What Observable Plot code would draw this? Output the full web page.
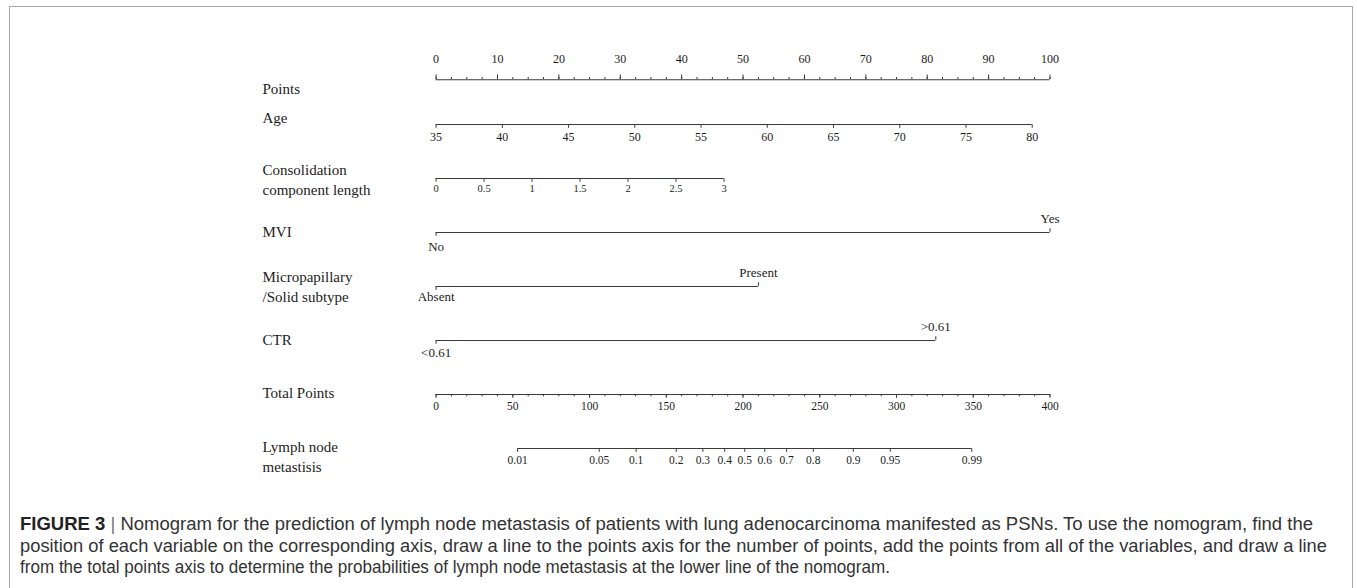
<!DOCTYPE html>
<html><head><meta charset="utf-8">
<script src="https://cdn.jsdelivr.net/npm/d3@7"></script>
<script src="https://cdn.jsdelivr.net/npm/@observablehq/plot@0.6"></script>
<style>
html,body{margin:0;padding:0;background:#fff;}
#frame{position:absolute;left:9px;top:6px;width:1344px;height:700px;border:1.5px solid #a8a8a8;border-bottom:none;box-sizing:border-box;}
#chart{position:absolute;left:0;top:0;}
#caption{position:absolute;left:20px;top:514px;font-family:"Liberation Sans Narrow","Arial Narrow","Liberation Sans",Arial,sans-serif;font-size:17.5px;line-height:21.5px;color:#333;white-space:nowrap;}
#caption span.line{display:inline-block;transform-origin:0 0;}
#caption b{color:#222;}
#caption .bar{color:#777;}
</style></head>
<body>
<div id="frame"></div>
<div id="chart"></div>
<div id="caption"></div>
<script>
// ---------- data ----------
const rows = ["Points", "Age", "Consolidation component length", "MVI",
  "Micropapillary /Solid subtype", "CTR", "Total Points", "Lymph node metastisis"];
const rowLabels = ["Points", "Age", "Consolidation\ncomponent length", "MVI",
  "Micropapillary\n/Solid subtype", "CTR", "Total Points", "Lymph node\nmetastisis"];

const pointsMajor = [0, 10, 20, 30, 40, 50, 60, 70, 80, 90, 100];
const pointsMinorStep = 2.5;

const ageTicks = [35, 40, 45, 50, 55, 60, 65, 70, 75, 80];
const ageRange = [35, 80];
const agePoints = [0, 97.1];

const cclTicks = [0, 0.5, 1, 1.5, 2, 2.5, 3];
const cclTickLabels = ["0", "0.5", "1", "1.5", "2", "2.5", "3"];
const cclRange = [0, 3];
const cclPoints = [0, 46.9];

const mviLevels = ["No", "Yes"];
const mviPoints = [0, 100];

const mpLevels = ["Absent", "Present"];
const mpPoints = [0, 52.5];

const ctrLevels = ["<0.61", ">0.61"];
const ctrPoints = [0, 81.4];

const totalTicks = [0, 50, 100, 150, 200, 250, 300, 350, 400];
const totalMinorStep = 10;
const totalMax = 400;

const lnmTicks = [0.01, 0.05, 0.1, 0.2, 0.3, 0.4, 0.5, 0.6, 0.7, 0.8, 0.9, 0.95, 0.99];
const lnmTotalAtHalf = 201.1;   // total points where probability = 0.5
const lnmTotalPerLogit = 32.2;  // total points per unit of logit

// ---------- value -> points mappings ----------
const agePts = d3.scaleLinear(ageRange, agePoints);
const cclPts = d3.scaleLinear(cclRange, cclPoints);
const totalPts = d3.scaleLinear([0, totalMax], [0, 100]);
const lnmPts = p => totalPts(lnmTotalAtHalf + lnmTotalPerLogit * Math.log(p / (1 - p)));

// axis lines
const axisLines = [
  {row: rows[0], x1: 0, x2: 100},
  {row: rows[1], x1: agePts(ageRange[0]), x2: agePts(ageRange[1])},
  {row: rows[2], x1: cclPts(cclRange[0]), x2: cclPts(cclRange[1])},
  {row: rows[3], x1: mviPoints[0], x2: mviPoints[1]},
  {row: rows[4], x1: mpPoints[0], x2: mpPoints[1]},
  {row: rows[5], x1: ctrPoints[0], x2: ctrPoints[1]},
  {row: rows[6], x1: 0, x2: totalPts(totalMax)},
  {row: rows[7], x1: lnmPts(lnmTicks[0]), x2: lnmPts(lnmTicks[lnmTicks.length - 1])}
];
const pointsLine = axisLines.slice(0, 1);
const otherLines = axisLines.slice(1);

const pointsMajorT = pointsMajor.map(v => ({row: rows[0], x: v, label: String(v)}));
const pointsMinorT = d3.range(0, 100 + 1e-9, pointsMinorStep).map(v => ({row: rows[0], x: v}));
const ageT = ageTicks.map(v => ({row: rows[1], x: agePts(v), label: String(v)}));
const cclT = cclTicks.map((v, i) => ({row: rows[2], x: cclPts(v), label: cclTickLabels[i]}));
const cat = (row, levels, pts) => levels.map((l, i) => ({row, x: pts[i], label: l, above: i === 1}));
const mviT = cat(rows[3], mviLevels, mviPoints);
const mpT = cat(rows[4], mpLevels, mpPoints);
const ctrT = cat(rows[5], ctrLevels, ctrPoints);
const totalT = totalTicks.map(v => ({row: rows[6], x: totalPts(v), label: String(v)}));
const totalMinorT = d3.range(0, totalMax + 1e-9, totalMinorStep).map(v => ({row: rows[6], x: totalPts(v)}));
const lnmT = lnmTicks.map(v => ({row: rows[7], x: lnmPts(v), label: String(v)}));

// ---------- layout ----------
const W = 1357, H = 490;
const firstRowY = 68.4, rowStep = 54.37, half = rowStep / 2;
const pointsDy = 9.3;
const ink = "#3a3a3a", textInk = "#1c1c1c";
const serif = "'Liberation Serif','Times New Roman',serif";

const downTick = (data, len, extra = {}) => Plot.tickX(data, {x: "x", y: "row", stroke: ink, strokeWidth: 1,
  insetTop: half, insetBottom: half - len, ...extra});
const upTick = (data, len, extra = {}) => Plot.tickX(data, {x: "x", y: "row", stroke: ink, strokeWidth: 1,
  insetTop: half - len, insetBottom: half, ...extra});
const tickText = (data, dy, size, extra = {}) => Plot.text(data, {x: "x", y: "row", text: "label", dy,
  fontSize: size, fill: textInk, fontFamily: serif, lineAnchor: "middle", ...extra});

const labelDy = [pointsDy + 7.5, -7.5, 0.5, -1.5, -0.5, -1.5, -3, 7.5];

const chart = Plot.plot({
  width: W, height: H,
  marginLeft: 435.6, marginRight: W - 1049.5, marginTop: 0, marginBottom: 0,
  x: {domain: [0, 100], axis: null},
  y: {type: "band", domain: rows, range: [firstRowY - half, firstRowY + rowStep * (rows.length - 0.5)],
      padding: 0, axis: null},
  style: {background: "transparent"},
  marks: [
    // axis lines
    Plot.ruleY(pointsLine, {y: "row", x1: "x1", x2: "x2", stroke: ink, strokeWidth: 1.1, dy: pointsDy}),
    Plot.ruleY(otherLines, {y: "row", x1: "x1", x2: "x2", stroke: ink, strokeWidth: 1.1}),
    // Points scale
    upTick(pointsMinorT, 2.5, {dy: pointsDy}),
    upTick(pointsMajorT, 5, {dy: pointsDy}),
    tickText(pointsMajorT, pointsDy - 20.5, 12),
    // Age
    downTick(ageT, 4),
    tickText(ageT, 12.5, 12),
    // Consolidation
    downTick(cclT, 4),
    tickText(cclT, 10.5, 10.5),
    // categorical
    downTick(mviT.filter(d => !d.above), 4), upTick(mviT.filter(d => d.above), 4),
    tickText(mviT.filter(d => !d.above), 14.5, 13), tickText(mviT.filter(d => d.above), -13.5, 13),
    downTick(mpT.filter(d => !d.above), 4), upTick(mpT.filter(d => d.above), 4),
    tickText(mpT.filter(d => !d.above), 10.5, 13), tickText(mpT.filter(d => d.above), -13.5, 13),
    downTick(ctrT.filter(d => !d.above), 4), upTick(ctrT.filter(d => d.above), 4),
    tickText(ctrT.filter(d => !d.above), 12.5, 13), tickText(ctrT.filter(d => d.above), -13.5, 13),
    // Total points
    downTick(totalMinorT, 2.5),
    downTick(totalT, 4),
    tickText(totalT, 12, 11.5),
    // Lymph node metastasis
    downTick(lnmT, 4),
    tickText(lnmT, 11.5, 11.5),
    // row labels
    Plot.text(rows.map((r, i) => ({row: r, label: rowLabels[i]})), {
      y: "row", text: "label", frameAnchor: "left", dx: 262 - 435.6, textAnchor: "start",
      lineAnchor: "middle", lineHeight: 1.33, fontSize: 15, fill: textInk, fontFamily: serif,
      render: (index, scales, values, dims, ctx, next) => {
        const g = next(index, scales, values, dims, ctx);
        d3.select(g).selectAll("text").each(function(_, j) {
          const i = index[j];
          const t = d3.select(this);
          const tr = t.attr("transform") || "";
          t.attr("transform", tr + ` translate(0,${labelDy[i]})`);
        });
        return g;
      }
    })
  ]
});
document.getElementById("chart").appendChild(chart);

// ---------- caption ----------
const captionLines = [
  "Nomogram for the prediction of lymph node metastasis of patients with lung adenocarcinoma manifested as PSNs. To use the nomogram, find the",
  "position of each variable on the corresponding axis, draw a line to the points axis for the number of points, add the points from all of the variables, and draw a line",
  "from the total points axis to determine the probabilities of lymph node metastasis at the lower line of the nomogram."
];
const captionWidths = [1293, 1307, 870];
const cap = document.getElementById("caption");
captionLines.forEach((line, i) => {
  const div = document.createElement("div");
  const span = document.createElement("span");
  span.className = "line";
  if (i === 0) {
    const b = document.createElement("b"); b.textContent = "FIGURE 3";
    const s = document.createElement("span"); s.className = "bar"; s.textContent = " | ";
    span.appendChild(b); span.appendChild(s);
  }
  span.appendChild(document.createTextNode(line));
  div.appendChild(span);
  cap.appendChild(div);
  const w = span.getBoundingClientRect().width;
  span.style.transform = `scaleX(${captionWidths[i] / w})`;
});
</script>
</body></html>
